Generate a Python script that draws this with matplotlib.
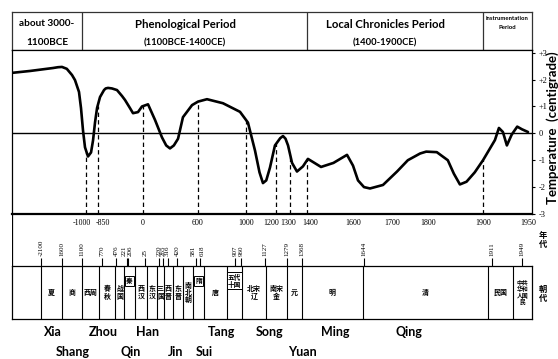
import numpy as np
import matplotlib.pyplot as plt
import matplotlib.transforms as mtransforms

# temperature anomaly curve (deg C)
years = [-3000, -2441, -1814, -1695, -1600, -1480, -1350, -1275, -1175, -1125,
         -1075, -1025, -975, -937, -912, -887, -862, -808, -725, -690,
         -642, -560, -453, -337, -267, -180, -138, -69, -14, 69,
         165, 253, 300, 342, 385, 429, 471, 549, 600, 675,
         808, 950, 1013, 1060, 1090, 1113, 1135, 1160, 1193, 1230,
         1250, 1268, 1286, 1312, 1341, 1376, 1404, 1461, 1515, 1574,
         1600, 1620, 1644, 1656, 1682, 1714, 1744, 1778, 1795, 1816,
         1836, 1847, 1858, 1870, 1885, 1900, 1915, 1920, 1925, 1930,
         1936, 1943, 1949, 1950]
temps = [2.25, 2.32, 2.43, 2.46, 2.47, 2.40, 2.17, 1.98, 1.54, 0.94,
         0.11, -0.52, -0.86, -0.71, -0.26, 0.41, 0.94, 1.35, 1.61, 1.67,
         1.69, 1.67, 1.61, 1.39, 1.24, 0.94, 0.75, 0.79, 1.0, 1.08,
         0.5, -0.15, -0.45, -0.56, -0.45, -0.2, 0.6, 1.05, 1.18, 1.27,
         1.12, 0.8, 0.4, -0.64, -1.45, -1.85, -1.75, -1.27, -0.45, -0.18,
         -0.1, -0.2, -0.45, -1.1, -1.42, -1.23, -0.95, -1.25, -1.1, -0.8,
         -1.2, -1.75, -2.0, -2.05, -1.92, -1.42, -1.0, -0.75, -0.68, -0.7,
         -1.0, -1.5, -1.9, -1.8, -1.45, -1.0, -0.25, 0.2, 0.05, -0.45,
         -0.05, 0.25, 0.15, 0.05]

dash_years = [-1000, -850, 0, 600, 1000, 1200, 1300, 1400, 1900]
tick_years = [-1000, -850, 0, 600, 1000, 1200, 1300, 1400, 1600, 1700, 1800, 1900, 1950]
tick_labels = ['-1000', '-850', '0', '600', '1000', '1200', '1300', '1400',
               '1600', '1700', '1800', '1900', '1950']
temp_ticks = [3, 2, 1, 0, -1, -2, -3]
temp_labels = ['+3', '+2', '+1', '0', '-1', '-2', '-3']

# dynasty boundaries
dyn_years = [-2100, -1600, -1100, -770, -476, -221, -206, 25, 220, 265, 316, 420,
             581, 618, 907, 960, 1127, 1279, 1368, 1644, 1911, 1949]
dyn_labels = ['-2100', '1600', '1100', '770', '476', '221', '206', '25', '220', '265',
              '316', '420', '581', '618', '907', '960', '1127', '1279', '1368',
              '1644', '1911', '1949']
dynasties = [('夏', -2100, -1600), ('商', -1600, -1100), ('西周', -1100, -770),
             ('春\n秋', -770, -476), ('战\n国', -476, -221), ('秦', -221, -206),
             ('西\n汉', -206, 25), ('东\n汉', 25, 220), ('三\n国', 220, 265),
             ('西\n晋', 265, 316), ('东\n晋', 316, 420), ('南\n北\n朝', 420, 581),
             ('隋', 581, 618), ('唐', 618, 907), ('五代\n十国', 907, 960),
             ('北宋\n辽', 960, 1127), ('南宋\n金', 1127, 1279), ('元', 1279, 1368),
             ('明', 1368, 1644), ('清', 1644, 1911), ('民国', 1911, 1949),
             ('中共\n华和\n人国\n民', 1949, 1955)]
boxed = ['秦', '隋', '五代\n十国']

names_row1 = ['Xia', 'Zhou', 'Han', 'Tang', 'Song', 'Ming', 'Qing']
names_row1_x = [-1814, -746, 69, 800, 1160, 1522, 1747]
names_row2 = ['Shang', 'Qin', 'Jin', 'Sui', 'Yuan']
names_row2_x = [-1325, -166, 409, 650, 1371]

period_bounds = [-1100, 1400, 1900]

# the chart's own (piecewise) time axis
YK = np.array([-3000, -2100, -1600, -1100, -1000, -850, -476, -221, 0, 220, 420, 600,
               1000, 1200, 1300, 1400, 1600, 1644, 1700, 1800, 1900, 1949, 1950, 1955], float)
PK = np.array([12, 41, 62, 82, 86, 98, 116, 127, 143, 159, 177, 198,
               246, 276, 290, 307, 353, 364, 392, 428, 483, 522, 528, 532], float)
# the dynasty strip is drawn on its own ruler
TY = np.array([-3000, -2100, -1600, -1100, -770, -476, -221, -206, 25, 220, 265, 316,
               420, 581, 618, 907, 960, 1127, 1279, 1368, 1644, 1911, 1949, 1955], float)
TP = np.array([12, 41, 62, 82, 99, 115, 124, 135, 147, 157, 164, 173,
               183, 193, 204, 227, 242, 266, 287, 302, 363, 488, 513, 532], float)


def fwd(x):
    return np.interp(x, YK, PK)


def inv(p):
    return np.interp(p, PK, YK)


def fwd_t(x):
    return np.interp(x, TY, TP)


def inv_t(p):
    return np.interp(p, TP, TY)


W, H = 558, 359
fig = plt.figure(figsize=(W / 100, H / 100), dpi=100)


def box(left, top, right, bottom):
    return [left / W, 1 - bottom / H, (right - left) / W, (bottom - top) / H]


ax_head = fig.add_axes(box(12, 12, 532, 50))
ax = fig.add_axes(box(12, 50, 532, 214))
ax_yr = fig.add_axes(box(12, 214, 532, 266))
ax_tab = fig.add_axes(box(12, 266, 532, 319))
for a in (ax_head, ax, ax_yr):
    a.set_xscale('function', functions=(fwd, inv))
    a.set_xlim(-3000, 1955)
ax_tab.set_xscale('function', functions=(fwd_t, inv_t))
ax_tab.set_xlim(-3000, 1955)

serif = 'Liberation Serif'
bold = 'Lato'
cjk = ['Noto Sans CJK SC', 'DejaVu Sans']

# header
ax_head.set_ylim(0, 1)
ax_head.set_xticks([])
ax_head.set_yticks([])
for s in ax_head.spines.values():
    s.set_linewidth(0.9)
    s.set_color('#333333')
ax_head.vlines(period_bounds, 0, 1, colors='#333333', lw=0.9)
ax_head.text(-1957, 0.70, 'about 3000-', ha='center', va='center', fontsize=7.2,
             family=bold, weight='bold')
ax_head.text(-1957, 0.21, '1100BCE', ha='center', va='center', fontsize=7.2,
             family=bold, weight='bold')
ax_head.text(490, 0.66, 'Phenological Period', ha='center', va='center', fontsize=8.2,
             family=bold, weight='bold')
ax_head.text(490, 0.19, '(1100BCE-1400CE)', ha='center', va='center', fontsize=6.8,
             family=bold, weight='bold')
ax_head.text(1686, 0.66, 'Local Chronicles Period', ha='center', va='center', fontsize=8.2,
             family=bold, weight='bold')
ax_head.text(1686, 0.19, '(1400-1900CE)', ha='center', va='center', fontsize=6.8,
             family=bold, weight='bold')
ax_head.text(1930, 0.84, 'instrumentation', ha='center', va='center', fontsize=4.3,
             family=bold, weight='bold')
ax_head.text(1930, 0.58, 'Period', ha='center', va='center', fontsize=4.3,
             family=bold, weight='bold')

# main temperature panel
ax.set_ylim(-3, 3.1)
ax.axhline(0, color='black', lw=1.0)
ax.plot(years, temps, color='black', lw=1.9, solid_joinstyle='round', solid_capstyle='round')
ax.vlines(dash_years, -3, np.interp(dash_years, years, temps), colors='black',
          lw=0.9, linestyles=(0, (3.5, 2.5)))
ax.yaxis.tick_right()
ax.set_yticks(temp_ticks)
ax.set_yticklabels(temp_labels, family=serif)
ax.tick_params(axis='y', direction='out', length=2.5, width=0.8, pad=2, labelsize=6)
ax.set_xticks(tick_years)
ax.set_xticklabels(tick_labels, family=serif)
ax.tick_params(axis='x', length=0, pad=3.5, labelsize=5.8)
# crowded labels are nudged sideways as in the original
shift = {-1000: -4, -850: 5, 1200: -5, 1300: -2, 1400: 3}
for lab, y in zip(ax.get_xticklabels(), tick_years):
    if y in shift:
        lab.set_transform(lab.get_transform() +
                          mtransforms.ScaledTranslation(shift[y] / 100, 0, fig.dpi_scale_trans))
for s in ax.spines.values():
    s.set_linewidth(0.9)
ax.spines['bottom'].set_linewidth(1.6)

# dynasty year labels
ax_yr.set_ylim(0, 1)
ax_yr.axis('off')
ax_yr.vlines(dyn_years, 0, 0.16, colors='black', lw=0.8)
align = {-221: 'right', -206: 'left', 581: 'right', 618: 'left'}
for y, lab in zip(dyn_years, dyn_labels):
    ax_yr.text(y, 0.2, lab, rotation=90, ha=align.get(y, 'center'), va='bottom',
               fontsize=5.0, family=serif)
ax_yr.axvline(-3000, color='black', lw=0.9)
fig.text(543 / W, 1 - 240 / H, '年\n代', ha='center', va='center', fontsize=6,
         family=cjk, weight='bold', linespacing=1.1)

# dynasty table
ax_tab.set_ylim(0, 1)
ax_tab.set_xticks([])
ax_tab.set_yticks([])
for s in ax_tab.spines.values():
    s.set_linewidth(0.9)
ax_tab.vlines(dyn_years, 0, 1, colors='black', lw=0.8)
for name, a, b in dynasties:
    xm = inv_t((fwd_t(a) + fwd_t(b)) / 2)
    if name in boxed:
        ax_tab.text(xm, 0.72, name, ha='center', va='center', fontsize=4.8, family=cjk,
                    weight='bold', linespacing=1.0,
                    bbox=dict(boxstyle='square,pad=0.2', fc='white', ec='black', lw=0.7))
    else:
        fs = 4.2 if b == 1955 else 5
        ax_tab.text(xm, 0.5, name, ha='center', va='center', fontsize=fs, family=cjk,
                    weight='bold', linespacing=1.05)
fig.text(543 / W, 1 - 294 / H, '朝\n代', ha='center', va='center', fontsize=6,
         family=cjk, weight='bold', linespacing=1.1)

# dynasty names in English, under the strip
for n, x in zip(names_row1, names_row1_x):
    ax_yr.text(x, -1.27, n, ha='center', va='center', fontsize=9, family=bold,
               weight='bold', clip_on=False)
for n, x in zip(names_row2, names_row2_x):
    ax_yr.text(x, -1.65, n, ha='center', va='center', fontsize=9, family=bold,
               weight='bold', clip_on=False)

fig.text(553 / W, 1 - 128 / H, 'Temperature  (centigrade)', rotation=90, ha='center',
         va='center', fontsize=9.5, family=bold, weight='bold')

fig.savefig('out.png', dpi=100)
